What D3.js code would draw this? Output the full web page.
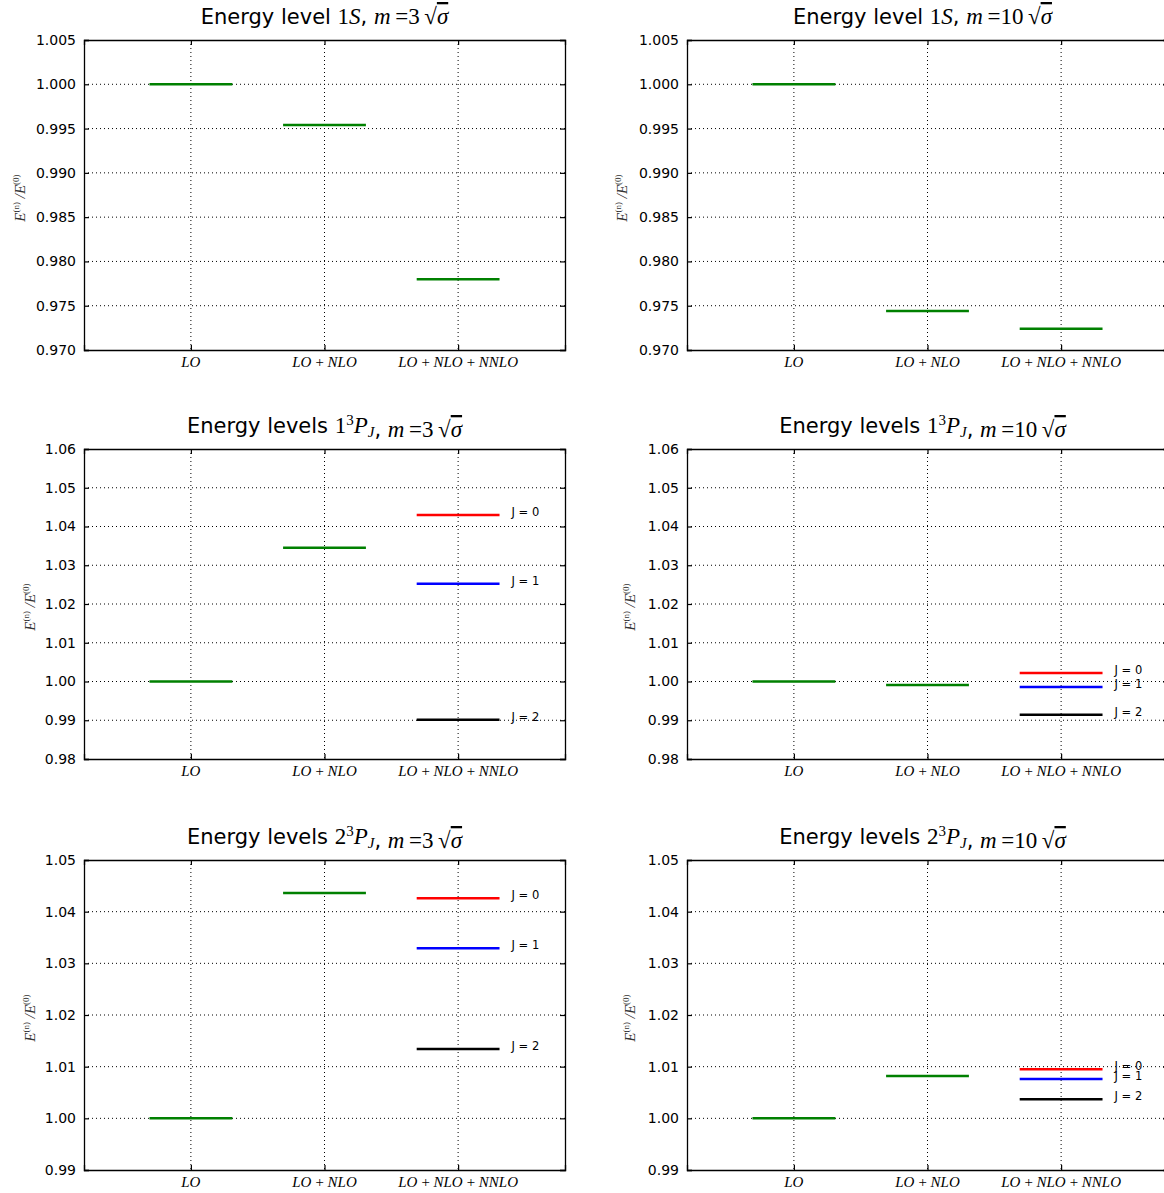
<!DOCTYPE html>
<html lang="en">
<head>
<meta charset="utf-8">
<script src="https://d3js.org/d3.v7.min.js"></script>
<style>
  body { margin: 0; background: #fff; }
  svg { display: block; }
  .tick text { font-family: "DejaVu Sans", sans-serif; font-size: 14px; fill: #000; }
  .math { font-family: "Liberation Serif", "DejaVu Serif", serif; }
</style>
</head>
<body>
<div id="graph"></div>
<script>

// stages on the x axis
var stages = ["LO", "LO\u2009+\u2009NLO", "LO\u2009+\u2009NLO\u2009+\u2009NNLO"];
var stagePos = [1, 2, 3];

// energy ratios E(n)/E(0)
var s1_m3 = [1.000, 0.9954, 0.9780];
var s1_m10 = [1.000, 0.9744, 0.9724];

var p1_m3 = [1.000, 1.0345];
var p1_m3_J = [1.0430, 1.0252, 0.9901];
var p1_m10 = [1.000, 0.9991];
var p1_m10_J = [1.0022, 0.9986, 0.9914];

var p2_m3 = [1.000, 1.0436];
var p2_m3_J = [1.0426, 1.0329, 1.0134];
var p2_m10 = [1.000, 1.0082];
var p2_m10_J = [1.0095, 1.0076, 1.0037];

var jLabels = ["J = 0", "J = 1", "J = 2"];
var jColors = ["#ff0000", "#0000ff", "#000000"];

// tick values
var yTicksS = [0.970, 0.975, 0.980, 0.985, 0.990, 0.995, 1.000, 1.005];
var yTicksP1 = [0.98, 0.99, 1.00, 1.01, 1.02, 1.03, 1.04, 1.05, 1.06];
var yTicksP2 = [0.99, 1.00, 1.01, 1.02, 1.03, 1.04, 1.05];

var W = 1164, H = 1193;
var pw = 481, ph = 310;

var svg = d3.select("#graph").append("svg")
    .attr("width", W).attr("height", H);

var panels = [
  {x0: 84,  y0: 40,  lvl: "S",  m: "3",  main: s1_m3,  J: null,     ticks: yTicksS,  fmt: ".3f", lab: 20},
  {x0: 687, y0: 40,  lvl: "S",  m: "10", main: s1_m10, J: null,     ticks: yTicksS,  fmt: ".3f", lab: 622},
  {x0: 84,  y0: 449, lvl: "1P", m: "3",  main: p1_m3,  J: p1_m3_J,  ticks: yTicksP1, fmt: ".2f", lab: 30},
  {x0: 687, y0: 449, lvl: "1P", m: "10", main: p1_m10, J: p1_m10_J, ticks: yTicksP1, fmt: ".2f", lab: 630},
  {x0: 84,  y0: 860, lvl: "2P", m: "3",  main: p2_m3,  J: p2_m3_J,  ticks: yTicksP2, fmt: ".2f", lab: 30},
  {x0: 687, y0: 860, lvl: "2P", m: "10", main: p2_m10, J: p2_m10_J, ticks: yTicksP2, fmt: ".2f", lab: 630}
];

var halfW = 0.31;

panels.forEach(function(p) {
  var g = svg.append("g").attr("transform", "translate(" + p.x0 + "," + p.y0 + ")");

  var x = d3.scaleLinear().domain([0.2, 3.8]).range([0, pw]);
  var y = d3.scaleLinear().domain([p.ticks[0], p.ticks[p.ticks.length - 1]]).range([ph, 0]);

  // grid
  g.append("g").selectAll("line").data(p.ticks.slice(1, -1)).enter().append("line")
    .attr("x1", 0).attr("x2", pw)
    .attr("y1", function(d) { return y(d); }).attr("y2", function(d) { return y(d); })
    .attr("stroke", "#000").attr("stroke-width", 1).attr("stroke-dasharray", "1,3");
  g.append("g").selectAll("line").data(stagePos).enter().append("line")
    .attr("x1", function(d) { return x(d); }).attr("x2", function(d) { return x(d); })
    .attr("y1", 0).attr("y2", ph)
    .attr("stroke", "#000").attr("stroke-width", 1).attr("stroke-dasharray", "1,3");

  // level lines
  var mainData = p.main.map(function(v, i) { return {pos: stagePos[i], v: v}; });
  g.append("g").selectAll("line").data(mainData).enter().append("line")
    .attr("x1", function(d) { return x(d.pos - halfW); })
    .attr("x2", function(d) { return x(d.pos + halfW); })
    .attr("y1", function(d) { return y(d.v); }).attr("y2", function(d) { return y(d.v); })
    .attr("stroke", "#008000").attr("stroke-width", 2.5);

  if (p.J) {
    var jd = p.J.map(function(v, i) { return {v: v, c: jColors[i], t: jLabels[i]}; });
    g.append("g").selectAll("line").data(jd).enter().append("line")
      .attr("x1", x(3 - halfW)).attr("x2", x(3 + halfW))
      .attr("y1", function(d) { return y(d.v); }).attr("y2", function(d) { return y(d.v); })
      .attr("stroke", function(d) { return d.c; }).attr("stroke-width", 2.5);
    g.append("g").selectAll("text").data(jd).enter().append("text")
      .attr("x", x(3.4))
      .attr("y", function(d) { return y(d.v) + 1; })
      .attr("font-family", "DejaVu Sans, sans-serif").attr("font-size", 11.5)
      .text(function(d) { return d.t; });
  }

  // axes
  var yl = d3.axisLeft(y).tickValues(p.ticks).tickFormat(d3.format(p.fmt)).tickSize(-5).tickPadding(8);
  var yr = d3.axisRight(y).tickValues(p.ticks).tickFormat("").tickSize(-5);
  var xb = d3.axisBottom(x).tickValues(stagePos).tickFormat("").tickSize(-5);
  var xt = d3.axisTop(x).tickValues(stagePos).tickFormat("").tickSize(-5);
  g.append("g").call(yl);
  g.append("g").attr("transform", "translate(" + pw + ",0)").call(yr);
  g.append("g").attr("transform", "translate(0," + ph + ")").call(xb);
  g.append("g").call(xt);
  g.selectAll(".domain").attr("stroke", "#000").attr("stroke-width", 1.3);
  g.selectAll(".tick line").attr("stroke", "#000").attr("stroke-width", 1.2);

  // x category labels (math italic)
  g.append("g").selectAll("text").data(stages).enter().append("text")
    .attr("class", "math")
    .attr("x", function(d, i) { return x(stagePos[i]); })
    .attr("y", ph + 17)
    .attr("text-anchor", "middle")
    .attr("font-size", 15).attr("font-style", "italic")
    .text(function(d) { return d; });

  // y label
  var ylab = svg.append("text")
    .attr("class", "math")
    .attr("transform", "translate(" + (p.lab + 5) + "," + (p.y0 + ph / 2 + 3) + ") rotate(-90)")
    .attr("text-anchor", "middle")
    .attr("font-size", 15).attr("fill", "#333");
  ylab.append("tspan").attr("font-style", "italic").text("E");
  ylab.append("tspan").attr("font-size", 9).attr("dy", -6).text("(n)");
  ylab.append("tspan").attr("dy", 6).attr("font-style", "italic").text(" /E");
  ylab.append("tspan").attr("font-size", 9).attr("dy", -6).text("(0)");

  // title
  var t = svg.append("text")
    .attr("x", p.x0 + pw / 2 - (p.x0 > 300 ? 5 : 0))
    .attr("y", p.y0 - 16)
    .attr("text-anchor", "middle")
    .attr("font-family", "DejaVu Sans, sans-serif").attr("font-size", 21);
  if (p.lvl === "S") {
    t.append("tspan").text("Energy level ");
    t.append("tspan").attr("class", "math").attr("font-size", 23).text("1");
    t.append("tspan").attr("class", "math").attr("font-size", 23).attr("font-style", "italic").text("S");
  } else {
    t.append("tspan").text("Energy levels ");
    t.append("tspan").attr("class", "math").attr("font-size", 23).text(p.lvl.charAt(0));
    t.append("tspan").attr("class", "math").attr("font-size", 15).attr("dy", -8).text("3");
    t.append("tspan").attr("class", "math").attr("font-size", 23).attr("font-style", "italic").attr("dy", 8).text("P");
    t.append("tspan").attr("class", "math").attr("font-size", 15).attr("font-style", "italic").attr("dy", 4).text("J");
    t.append("tspan").attr("dy", -4).text("");
  }
  t.append("tspan").text(", ");
  t.append("tspan").attr("class", "math").attr("font-size", 23).attr("font-style", "italic").text("m");
  t.append("tspan").attr("class", "math").attr("font-size", 23).text("\u2009=" + p.m + "\u2009\u221A");
  t.append("tspan").attr("class", "math").attr("font-size", 23).attr("font-style", "italic")
    .style("text-decoration", "overline").text("\u03C3");
});

</script>
</body>
</html>
